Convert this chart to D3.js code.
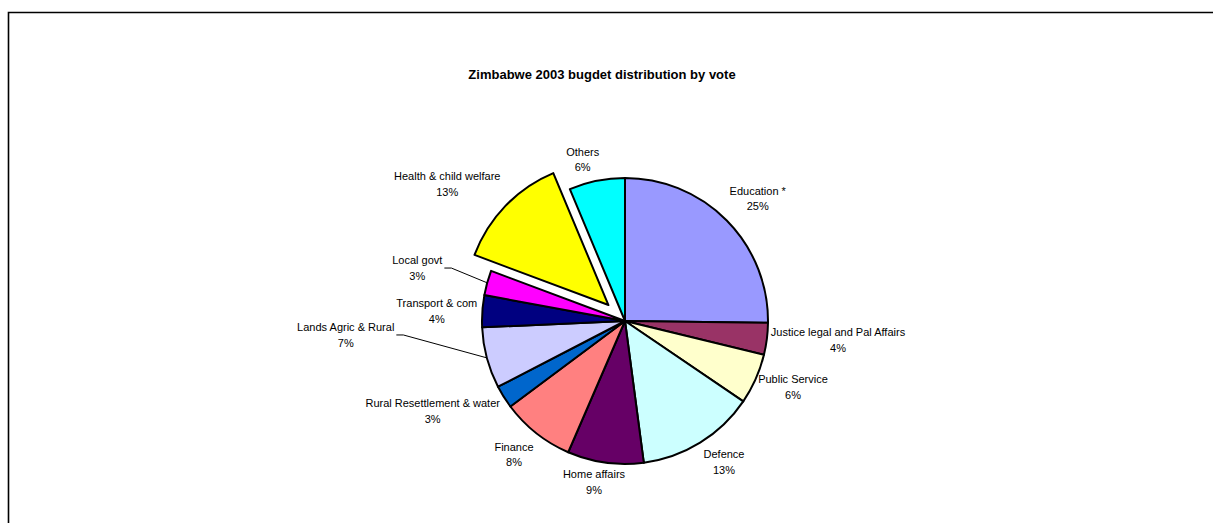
<!DOCTYPE html>
<html>
<head>
<meta charset="utf-8">
<script src="https://cdn.jsdelivr.net/npm/d3@7"></script>
<style>
  html, body { margin: 0; padding: 0; background: #fff; }
  svg { display: block; }
  text { font-family: Arial, "Liberation Sans", sans-serif; fill: #000; }
</style>
</head>
<body>
<svg id="chart" width="1213" height="523"></svg>
<script>
// ---- data ----
const title = "Zimbabwe 2003 bugdet distribution by vote";
const categories = [
  "Education *", "Justice legal and Pal Affairs", "Public Service", "Defence",
  "Home affairs", "Finance", "Rural Resettlement & water", "Lands Agric & Rural",
  "Transport & com", "Local govt", "Health & child welfare", "Others"
];
const shares = [25.2, 3.6, 5.7, 13.4, 8.6, 8.3, 2.6, 6.9, 3.6, 2.8, 13.0, 6.3];
const colors = [
  "#9999FF", "#993366", "#FFFFCC", "#CCFFFF", "#660066", "#FF8080",
  "#0066CC", "#CCCCFF", "#000080", "#FF00FF", "#FFFF00", "#00FFFF"
];
const explodedCategories = ["Health & child welfare"];
const leaderLineCategories = ["Local govt", "Lands Agric & Rural"];

// ---- layout (label offsets from each slice's outer arc point) ----
const labelOffsets = {
  "Education *": [31, -22.2],
  "Justice legal and Pal Affairs": [71.1, 1.1],
  "Public Service": [37.3, 8],
  "Defence": [23.9, 19.3],
  "Home affairs": [-11.3, 19.4],
  "Finance": [-22.3, 21.3],
  "Rural Resettlement & water": [-71.1, 14.1],
  "Lands Agric & Rural": [-141.1, -22.9],
  "Transport & com": [-45.6, -0.1],
  "Local govt": [-69.9, -14.8],
  "Health & child welfare": [-58.2, -21.7],
  "Others": [-14.2, -21.5]
};

const W = 1213, H = 523;
const cx = 625, cy = 321, R = 143, explodeDist = 23;

const svg = d3.select("#chart");

// frame
svg.append("path")
  .attr("d", `M8.5,${H} V12.5 H${W}`)
  .attr("fill", "none")
  .attr("stroke", "#000")
  .attr("stroke-width", 1.6);

// title
svg.append("text")
  .attr("x", 602)
  .attr("y", 78.5)
  .attr("text-anchor", "middle")
  .attr("font-size", 13)
  .attr("font-weight", "bold")
  .text(title);

const data = categories.map((c, i) => ({ name: c, value: shares[i], color: colors[i] }));
const total = d3.sum(shares);

const pie = d3.pie().value(d => d.value).sort(null);
const arcs = pie(data);
const arcGen = d3.arc().innerRadius(0).outerRadius(R);

const g = svg.append("g").attr("transform", `translate(${cx},${cy})`);

function offsetOf(a) {
  if (!explodedCategories.includes(a.data.name)) return [0, 0];
  const m = (a.startAngle + a.endAngle) / 2;
  return [explodeDist * Math.sin(m), -explodeDist * Math.cos(m)];
}
function outerPoint(a) {
  const m = (a.startAngle + a.endAngle) / 2;
  const o = offsetOf(a);
  return [o[0] + R * Math.sin(m), o[1] - R * Math.cos(m)];
}

g.selectAll("path.slice")
  .data(arcs)
  .join("path")
  .attr("class", "slice")
  .attr("d", arcGen)
  .attr("transform", d => { const o = offsetOf(d); return `translate(${o[0]},${o[1]})`; })
  .attr("fill", d => d.data.color)
  .attr("stroke", "#000")
  .attr("stroke-width", 2)
  .attr("stroke-linejoin", "round");

const pctFmt = v => Math.round(v / total * 100) + "%";

const labels = g.selectAll("g.label")
  .data(arcs)
  .join("g")
  .attr("class", "label")
  .attr("transform", d => {
    const p = outerPoint(d);
    const off = labelOffsets[d.data.name];
    return `translate(${p[0] + off[0]},${p[1] + off[1]})`;
  });

labels.append("text")
  .attr("class", "name")
  .attr("text-anchor", "middle")
  .attr("font-size", 11)
  .attr("y", -3.7)
  .text(d => d.data.name);

labels.append("text")
  .attr("text-anchor", "middle")
  .attr("font-size", 11)
  .attr("y", 12)
  .text(d => pctFmt(d.data.value));

// leader lines
arcs.filter(a => leaderLineCategories.includes(a.data.name)).forEach(a => {
  const p = outerPoint(a);
  const off = labelOffsets[a.data.name];
  const lx = p[0] + off[0], ly = p[1] + off[1];
  const node = labels.filter(d => d === a).select("text.name").node();
  const w = node.getComputedTextLength();
  const x0 = lx + w / 2 + 2;
  g.append("path")
    .attr("d", `M${x0},${ly} H${x0 + 7} L${p[0]},${p[1]}`)
    .attr("fill", "none")
    .attr("stroke", "#000")
    .attr("stroke-width", 1);
});
</script>
</body>
</html>
